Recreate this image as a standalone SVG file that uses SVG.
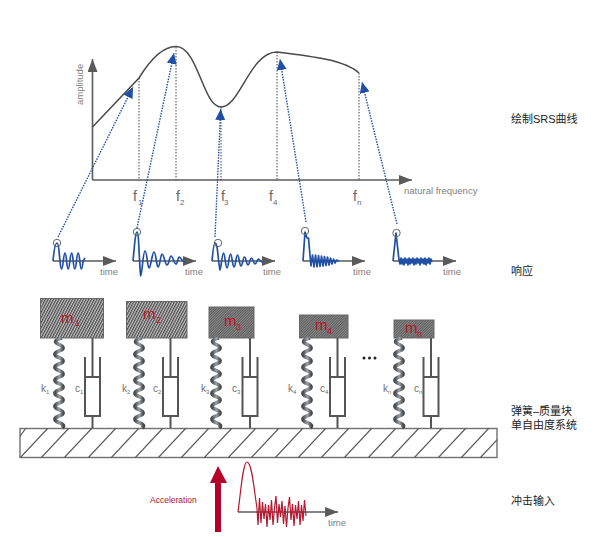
<svg xmlns="http://www.w3.org/2000/svg" width="600" height="537" viewBox="0 0 600 537">
<style>
text{font-family:"Liberation Sans","Noto Sans CJK SC",sans-serif}
.ax{fill:none;stroke:#5a5a5a;stroke-width:1.6}
.gr{fill:#808080;font-size:9.5px}
.fq{fill:#666;font-size:14px}
.sb{fill:#666;font-size:8px}
.kc{fill:#707070;font-size:10px}
.ks{fill:#707070;font-size:6px}
.dv{fill:none;stroke:#444;stroke-width:1;stroke-dasharray:1.5 1.5}
.bl{fill:none;stroke:#2050a5;stroke-width:1.4;stroke-dasharray:1.5 1.2}
.wv{fill:none;stroke:#2050a5;stroke-width:1.7;stroke-linejoin:round}
.cr{fill:none;stroke:#666;stroke-width:1}
.ms{stroke:#666;stroke-width:1}
.mt{fill:#c0102a;font-size:15px}
.mb{fill:#c0102a;font-size:9px}
.dp{fill:none;stroke:#555;stroke-width:2}
.lb{fill:#222;font-size:11px}
</style>
<defs>
<marker id="ga" markerUnits="userSpaceOnUse" markerWidth="14" markerHeight="10" refX="13" refY="5" orient="auto"><path d="M0 0L13 5L0 10Z" fill="#5a5a5a"/></marker>
<marker id="ba" markerUnits="userSpaceOnUse" markerWidth="12" markerHeight="10" refX="11" refY="5" orient="auto"><path d="M0 0L11 5L0 10Z" fill="#2050a5"/></marker>
<pattern id="h1" patternUnits="userSpaceOnUse" width="2.4" height="2.4" patternTransform="rotate(-62)"><rect width="2.4" height="2.4" fill="#c4c4c4"/><rect width="2.4" height="1.2" fill="#4a4a4a"/></pattern>
<pattern id="h2" patternUnits="userSpaceOnUse" width="1.8" height="1.8" patternTransform="rotate(-45)"><rect width="1.8" height="1.8" fill="#8a8a8a"/><rect width="1.8" height=".9" fill="#5c5c5c"/></pattern>
<linearGradient id="sg" x1="0" x2="1" y1="0" y2="0"><stop offset="0" stop-color="#4a4a4a"/><stop offset=".5" stop-color="#9aa2a8"/><stop offset="1" stop-color="#4a4a4a"/></linearGradient>
<path id="sp" d="M3 0Q-8 3 0 6.500T0 13T0 19.500T0 26T0 32.500T0 39T0 45.500T0 52T0 58.500T0 65T0 71.500T0 78T0 84.500Q7 87 3 90" fill="none" stroke="url(#sg)" stroke-width="3.800"/>
<path id="dm" d="M0 0V39M-7.500 19V78H7.500V19M-7.500 39H7.500M0 78V90" class="dp"/>
<clipPath id="gc"><rect x="20" y="428" width="477" height="30"/></clipPath>
</defs>

<g id="connectors">
<path class="ax" d="M92.500 180V59" marker-end="url(#ga)"/>
<path class="ax" d="M92.500 180H412" marker-end="url(#ga)"/>
<path d="M92.500 127L139 78C150 60 162 46.500 176 46.500C198 46.500 203 107 221 107C240 107 250 52 277 52C310 56 345 60 359 73" fill="none" stroke="#4a4a4a" stroke-width="1.500"/>
<path class="dv" d="M139 78V180M176 47V180M221 107V180M277 52V180M359 73V180"/>
<path class="bl" d="M58 237L133 87" marker-end="url(#ba)"/>
<path class="bl" d="M137 228L174 53" marker-end="url(#ba)"/>
<path class="bl" d="M215 237L220.700 109" marker-end="url(#ba)"/>
<path class="bl" d="M306 222L280 59" marker-end="url(#ba)"/>
<path class="bl" d="M397 224L362 82" marker-end="url(#ba)"/>
<path class="ax" d="M53 261H116" marker-end="url(#ga)"/>
<path class="ax" d="M133 261H196" marker-end="url(#ga)"/>
<path class="ax" d="M212 261H275" marker-end="url(#ga)"/>
<path class="ax" d="M303 261H365" marker-end="url(#ga)"/>
<path class="ax" d="M393 261H456" marker-end="url(#ga)"/>
<path class="ax" d="M238 512H338" marker-end="url(#ga)"/>
</g>

<g id="chart-labels">
<text class="gr" font-size="10" transform="translate(83 105) rotate(-90)">amplitude</text>
<text class="gr" x="404" y="194">natural frequency</text>
<text class="fq" x="133" y="201">f</text><text class="sb" x="138" y="205">1</text>
<text class="fq" x="176" y="201">f</text><text class="sb" x="180" y="205">2</text>
<text class="fq" x="221" y="201">f</text><text class="sb" x="224" y="205">3</text>
<text class="fq" x="269" y="201">f</text><text class="sb" x="273" y="205">4</text>
<text class="fq" x="353" y="201">f</text><text class="sb" x="357" y="205">n</text>
</g>

<g id="response-1">
<path class="wv" d="M53 261C54 250 55.500 243 57 243C59 243 59 254 60 261Q61.500 277 63.300 261T66.600 261T69.900 261T73.200 261T76.500 261T79.800 261T83.100 261L85 258"/>
<circle class="cr" cx="57" cy="243" r="3.700"/><text class="gr" x="100" y="275">time</text>
</g>
<g id="response-2">
<path class="wv" d="M133 261C134.500 245 135.500 232 137 232C139 232 139 262 140.700 276C142 276 143 251 145 251C147 251 147.500 268 149 268C151 268 152 252 154 252C156 252 156.500 267 158 267C160 267 160.500 254 162 254C164 254 165 265 167 265C169 265 169.500 256 171 256C173 256 174 264 176 264C177.500 264 178 257 179 257C181 257 182 262 185 262"/>
<circle class="cr" cx="137" cy="232" r="3.700"/><text class="gr" x="185" y="275">time</text>
</g>
<g id="response-3">
<path class="wv" d="M212 261C213 250 214 243 215 243C218 243 218 262 220 270C221 270 222 253 223.500 253C225 253 225.500 268 227 268C228.500 268 229 254 230.500 254C232 254 232.500 267 234 267C235.500 267 236 255 237.500 255C239 255 239.500 266 241 266C242.500 266 243 257 244.500 257C246 257 246.500 265 248 265C249.500 265 250 258 251.500 258C253 258 253.500 264 255 264C256.500 264 257 259 258.500 259C260 259 260.500 263 263 262"/>
<circle class="cr" cx="218" cy="243" r="3.700"/><text class="gr" x="263" y="275">time</text>
</g>
<g id="response-4">
<path class="wv" stroke-width="1.300" d="M303 261L305 232L307 238L308.500 238L310.500 261L311 266L312.500 255L314 267L315.500 255L317 267L318.500 255.500L320 266.500L321.500 256L323 266L324.500 256.500L326 265.500L327.500 257L329 265L330.500 258L332 264L333.500 259L335 263L336.500 260L339 261"/>
<circle class="cr" cx="305" cy="231" r="3.700"/><text class="gr" x="353" y="275">time</text>
</g>
<g id="response-5">
<path class="wv" d="M393 261L396 233L399 260L400 264L401 258L402 264L403 259L404 265L405 258L406 263L407 259L408 265L409 258L410 264L411 259L412 263L413 258L414 265L415 259L416 264L417 258L418 263L419 259L420 265L421 258L422 263L423 259L424 264L425 258L426 265L427 259L428 263L429 258L430 264L431 259L432 262"/>
<circle class="cr" cx="396.500" cy="233" r="3.700"/><text class="gr" x="443" y="275">time</text>
</g>

<g id="ground">
<rect x="20" y="428.500" width="477" height="29" fill="#fff" stroke="#707070" stroke-width="1.400"/>
<path clip-path="url(#gc)" fill="none" stroke="#5a5a5a" stroke-width="1.200" d="M20 458L48 428M41 458L69 428M64 458L92 428M88 458L116 428M111 458L139 428M135 458L163 428M158 458L186 428M181 458L209 428M204 458L232 428M228 458L256 428M251 458L279 428M275 458L303 428M298 458L326 428M321 458L349 428M344 458L372 428M368 458L396 428M391 458L419 428M414 458L442 428M438 458L466 428M461 458L489 428M480 458L508 428M10 450L26 428"/>
</g>

<g id="sdof-1">
<rect class="ms" x="40.500" y="298.500" width="63" height="39.500" fill="url(#h1)"/>
<text class="mt" x="61" y="323">m</text><text class="mb" x="75" y="326">1</text>
<use href="#sp" x="59" y="338"/><use href="#dm" x="92.500" y="338"/>
<text class="kc" x="41" y="392">k</text><text class="ks" x="46" y="394">1</text>
<text class="kc" x="75" y="392">c</text><text class="ks" x="80" y="394">1</text>
</g>
<g id="sdof-2">
<rect class="ms" x="126.500" y="301.500" width="60.500" height="36.500" fill="url(#h1)"/>
<text class="mt" x="143" y="319">m</text><text class="mb" x="156" y="323">2</text>
<use href="#sp" x="139" y="338"/><use href="#dm" x="170.500" y="338"/>
<text class="kc" x="122" y="392">k</text><text class="ks" x="127" y="394">2</text>
<text class="kc" x="153" y="392">c</text><text class="ks" x="158" y="394">2</text>
</g>
<g id="sdof-3">
<rect class="ms" x="209" y="307" width="45" height="31" fill="url(#h2)"/>
<text class="mt" x="224" y="326">m</text><text class="mb" x="236" y="330">3</text>
<use href="#sp" x="216" y="338"/><use href="#dm" x="250" y="338"/>
<text class="kc" x="201" y="392">k</text><text class="ks" x="206" y="394">3</text>
<text class="kc" x="232" y="392">c</text><text class="ks" x="237" y="394">3</text>
</g>
<g id="sdof-4">
<rect class="ms" x="299.500" y="315" width="48.500" height="23" fill="url(#h2)"/>
<text class="mt" x="315" y="330">m</text><text class="mb" x="327" y="334">4</text>
<use href="#sp" x="307" y="338"/><use href="#dm" x="337.500" y="338"/>
<text class="kc" x="288" y="392">k</text><text class="ks" x="293" y="394">4</text>
<text class="kc" x="320" y="392">c</text><text class="ks" x="325" y="394">4</text>
</g>
<g id="dots" fill="#222"><circle cx="364" cy="358" r="1.500"/><circle cx="369.500" cy="358" r="1.500"/><circle cx="375" cy="358" r="1.500"/></g>
<g id="sdof-n">
<rect class="ms" x="394" y="320" width="40" height="18" fill="url(#h2)"/>
<text class="mt" x="405" y="333">m</text><text class="mb" x="417" y="337">n</text>
<use href="#sp" x="399" y="338"/><use href="#dm" x="431" y="338"/>
<text class="kc" x="383" y="392">k</text><text class="ks" x="388" y="394">n</text>
<text class="kc" x="414" y="392">c</text><text class="ks" x="419" y="394">n</text>
</g>

<g id="input">
<path d="M215 532V483H210L218 466L227 483H221V532Z" fill="#b5002a"/>
<text x="150" y="503" font-size="8.500" fill="#c0102a">Acceleration</text>
<path fill="none" stroke="#b5182f" stroke-width="1.200" d="M238 512C241 490 243 462 247 462C252 462 254 490 257 508L258 525L259.500 498L261 523L262.500 502L264 519L265.500 504L267 527L268.500 505L270 520L271.500 500L273 525L274.500 508L276 496L277.500 523L279 504L280.500 517L282 501L283.500 524L285 506L286.500 527L288 508L289.500 497L291 520L292.500 504L294 526L295.500 505L297 519L298.500 501L300 525L301.500 505L303 521L304.500 500L306 516"/>
<text class="gr" x="328" y="526">time</text>
</g>

<g id="captions">
<text class="lb" x="511" y="123">绘制SRS曲线</text>
<text class="lb" x="511" y="275">响应</text>
<text class="lb" x="511" y="415">弹簧–质量块</text>
<text class="lb" x="511" y="429">单自由度系统</text>
<text class="lb" x="511" y="505">冲击输入</text>
</g>
</svg>
